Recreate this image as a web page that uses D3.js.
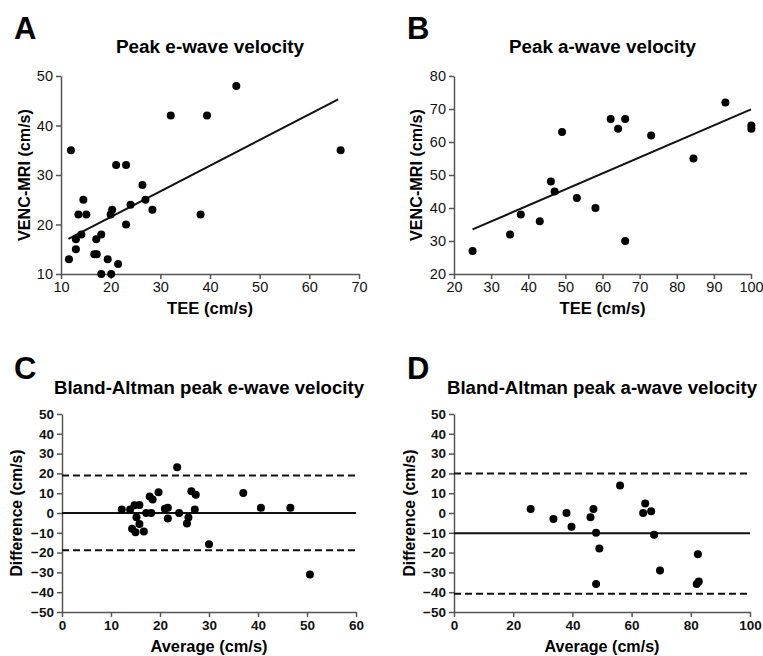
<!DOCTYPE html>
<html><head><meta charset="utf-8">
<script src="https://cdn.jsdelivr.net/npm/d3@7"></script>
<style>
body{margin:0;background:#fff}
svg{display:block}
text{font-family:"Liberation Sans",Arial,Helvetica,sans-serif}
</style>
</head><body>
<svg id="chart" width="763" height="656"></svg>
<script>
// ---------- Data ----------
// Panel A: peak e-wave velocity (TEE vs VENC-MRI)
const eTEE = [11.6,12.0,13.0,13.0,13.5,14.1,14.5,15.1,16.7,17.2,17.1,18.1,18.1,19.4,20.1,20.0,20.3,21.1,21.5,23.1,23.1,24.0,26.4,27.0,28.4,32.1,38.1,39.4,45.3,66.3];
const eMRI = [13.0,35.0,15.0,17.0,22.0,18.0,25.0,22.0,14.0,14.0,17.0,18.0,10.0,13.0,10.0,22.0,23.0,32.0,12.0,32.0,20.0,24.0,28.0,25.0,23.0,42.0,22.0,42.0,48.0,35.0];
const eFitX = [11.5, 65.8];
const eFitY = [17.1, 45.3];

// Panel B: peak a-wave velocity
const aTEE = [25.0,35.1,38.0,43.1,46.1,47.1,49.1,53.1,58.1,62.2,64.2,66.1,66.1,73.1,84.5,93.1,100.1,100.1];
const aMRI = [27.0,32.0,38.0,36.0,48.0,45.0,63.0,43.0,40.0,67.0,64.0,67.0,30.0,62.0,55.0,72.0,65.0,64.0];
const aFitX = [25, 100];
const aFitY = [33.5, 69.9];

// Panel C: Bland-Altman e-wave
const baEAvg  = [12.2,13.9,14.3,14.8,15.0,15.2,15.8,15.8,16.7,17.2,17.9,18.2,18.5,19.7,21.0,21.6,21.6,23.5,23.9,25.5,25.8,26.4,27.1,27.3,30.0,37.0,40.6,46.6,50.6];
const baEDiff = [1.8,1.8,-8.0,3.9,-9.7,-2.2,4.1,-5.5,-9.3,0.0,8.3,0.0,6.8,10.5,2.2,2.6,-2.8,23.1,0.0,-5.3,-2.3,11.0,1.8,9.2,-15.8,10.1,2.6,2.6,-31.0];
const baEBias = 0;
const baELimits = [19.0, -18.8];

// Panel D: Bland-Altman a-wave
const baAAvg  = [25.9,33.6,38.0,39.7,46.1,47.1,48.0,49.1,48.0,56.1,64.6,63.9,66.6,67.6,69.6,82.4,82.7,82.0];
const baADiff = [2.0,-3.0,0.0,-7.0,-2.1,2.0,-10.0,-17.9,-35.8,13.9,4.8,0.0,0.9,-11.0,-29.0,-20.8,-34.6,-35.8];
const baABias = -10.2;
const baALimits = [19.9, -40.8];

// Tick values
const ticksAX = [10,20,30,40,50,60,70];
const ticksAY = [10,20,30,40,50];
const ticksBX = [20,30,40,50,60,70,80,90,100];
const ticksBY = [20,30,40,50,60,70,80];
const ticksCX = [0,10,20,30,40,50,60];
const ticksDX = [0,20,40,60,80,100];
const ticksBAY = [-50,-40,-30,-20,-10,0,10,20,30,40,50];

// ---------- Drawing ----------
const svg = d3.select("#chart");

function panel(cfg){
  const g = svg.append("g");
  const x = d3.scaleLinear().domain(cfg.xDomain).range([cfg.left, cfg.right]);
  const y = d3.scaleLinear().domain(cfg.yDomain).range([cfg.bottom, cfg.top]);
  const tickWeight = cfg.boldTicks ? "bold" : "normal";
  const tickSizePx = cfg.boldTicks ? "13.5px" : "14.5px";

  const ax = g.append("g").attr("transform", `translate(0,${cfg.bottom})`)
    .call(d3.axisBottom(x).tickValues(cfg.xTicks).tickSize(5).tickSizeOuter(0).tickPadding(3));
  const ay = g.append("g").attr("transform", `translate(${cfg.left},0)`)
    .call(d3.axisLeft(y).tickValues(cfg.yTicks).tickSize(5).tickSizeOuter(0).tickPadding(3));
  [ax, ay].forEach(a => {
    a.select(".domain").attr("stroke", "#555").attr("stroke-width", 1.5);
    a.selectAll(".tick line").attr("stroke", "#555").attr("stroke-width", 1.5);
    a.selectAll(".tick text").attr("fill", "#111")
      .style("font-size", tickSizePx).style("font-weight", tickWeight)
      .style("font-family", '"Liberation Sans",Arial,sans-serif');
  });

  // reference lines
  (cfg.hlines || []).forEach(h => {
    g.append("line")
      .attr("x1", x(cfg.xDomain[0])).attr("x2", x(cfg.xDomain[1]))
      .attr("y1", y(h.v)).attr("y2", y(h.v))
      .attr("stroke", "#111").attr("stroke-width", 2)
      .attr("stroke-dasharray", h.dashed ? "7,4" : null);
  });

  // fit line
  if (cfg.fitX) {
    const pts = cfg.fitX.map((d, i) => [d, cfg.fitY[i]]);
    g.append("path")
      .attr("d", d3.line().x(d => x(d[0])).y(d => y(d[1]))(pts))
      .attr("stroke", "#111").attr("stroke-width", 2).attr("fill", "none");
  }

  // points
  const pts = cfg.xs.map((d, i) => [d, cfg.ys[i]]);
  g.selectAll("circle.p").data(pts).join("circle")
    .attr("class", "p")
    .attr("cx", d => x(d[0])).attr("cy", d => y(d[1]))
    .attr("r", 4).attr("fill", "#000");

  // titles
  const cx = (cfg.left + cfg.right) / 2;
  g.append("text").attr("x", cx).attr("y", cfg.titleY)
    .attr("text-anchor", "middle").style("font-size", "18px").style("font-weight", "bold")
    .attr("textLength", cfg.titleLen).attr("lengthAdjust", "spacingAndGlyphs")
    .text(cfg.title);
  g.append("text").attr("x", cx).attr("y", cfg.xLabelY)
    .attr("text-anchor", "middle").style("font-size", "17px").style("font-weight", "bold")
    .attr("textLength", cfg.xLabelLen).attr("lengthAdjust", "spacingAndGlyphs")
    .text(cfg.xLabel);
  const cy = (cfg.top + cfg.bottom) / 2;
  g.append("text")
    .attr("transform", `translate(${cfg.left - cfg.yLabelOff},${cy}) rotate(-90)`)
    .attr("text-anchor", "middle").attr("dominant-baseline", "central")
    .style("font-size", "17px").style("font-weight", "bold")
    .attr("textLength", cfg.yLabelLen).attr("lengthAdjust", "spacingAndGlyphs")
    .text(cfg.yLabel);
  g.append("text").attr("x", cfg.letterX).attr("y", cfg.letterY)
    .style("font-size", "31px").style("font-weight", "bold")
    .text(cfg.letter);
}

panel({letter:"A", letterX:14, letterY:39,
  title:"Peak e-wave velocity", titleY:53, titleLen:188,
  xLabel:"TEE (cm/s)", xLabelY:314, xLabelLen:86,
  yLabel:"VENC-MRI (cm/s)", yLabelOff:37, yLabelLen:132,
  left:61, right:359, top:76, bottom:274,
  xDomain:[10,70], yDomain:[10,50], xTicks:ticksAX, yTicks:ticksAY,
  xs:eTEE, ys:eMRI, fitX:eFitX, fitY:eFitY, boldTicks:false});

panel({letter:"B", letterX:407, letterY:39,
  title:"Peak a-wave velocity", titleY:53, titleLen:187,
  xLabel:"TEE (cm/s)", xLabelY:314, xLabelLen:86,
  yLabel:"VENC-MRI (cm/s)", yLabelOff:38, yLabelLen:132,
  left:454, right:751, top:76, bottom:274,
  xDomain:[20,100], yDomain:[20,80], xTicks:ticksBX, yTicks:ticksBY,
  xs:aTEE, ys:aMRI, fitX:aFitX, fitY:aFitY, boldTicks:false});

panel({letter:"C", letterX:14, letterY:379,
  title:"Bland-Altman peak e-wave velocity", titleY:394, titleLen:310,
  xLabel:"Average (cm/s)", xLabelY:652, xLabelLen:117,
  yLabel:"Difference (cm/s)", yLabelOff:46, yLabelLen:127,
  left:62, right:356, top:414, bottom:612,
  xDomain:[0,60], yDomain:[-50,50], xTicks:ticksCX, yTicks:ticksBAY,
  xs:baEAvg, ys:baEDiff, boldTicks:true,
  hlines:[{v:baEBias,dashed:false},{v:baELimits[0],dashed:true},{v:baELimits[1],dashed:true}]});

panel({letter:"D", letterX:407, letterY:379,
  title:"Bland-Altman peak a-wave velocity", titleY:394, titleLen:310,
  xLabel:"Average (cm/s)", xLabelY:652, xLabelLen:115,
  yLabel:"Difference (cm/s)", yLabelOff:45, yLabelLen:127,
  left:454, right:750, top:414, bottom:612,
  xDomain:[0,100], yDomain:[-50,50], xTicks:ticksDX, yTicks:ticksBAY,
  xs:baAAvg, ys:baADiff, boldTicks:true,
  hlines:[{v:baABias,dashed:false},{v:baALimits[0],dashed:true},{v:baALimits[1],dashed:true}]});
</script>
</body></html>
